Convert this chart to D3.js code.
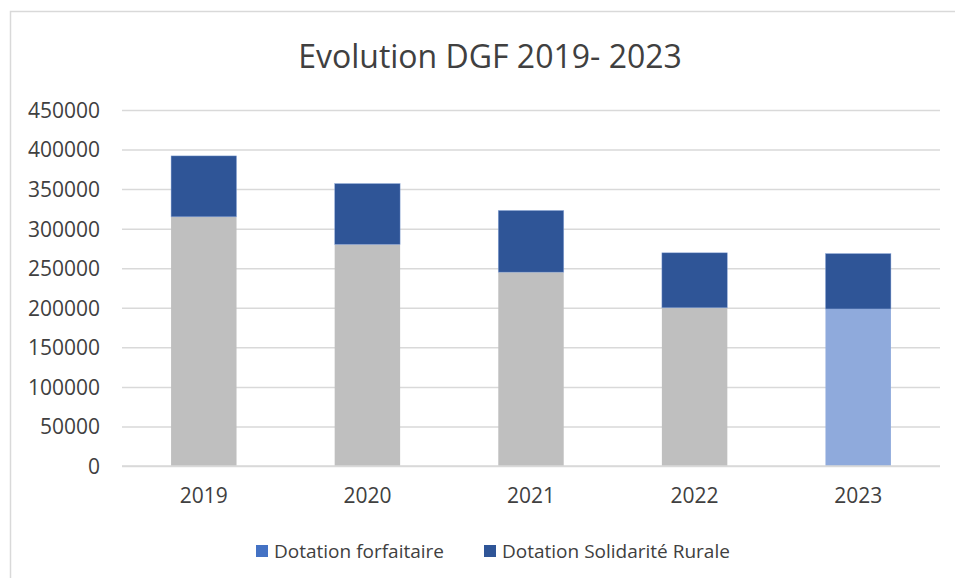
<!DOCTYPE html>
<html>
<head>
<meta charset="utf-8">
<script src="https://cdn.jsdelivr.net/npm/d3@7"></script>
<style>
  body { margin: 0; background: #fff; }
  svg { display: block; font-family: "Open Sans", sans-serif; }
</style>
</head>
<body>
<div id="chart"></div>
<script>
// data
var years = ["2019", "2020", "2021", "2022", "2023"];
var forfaitaire = [315000, 280000, 245000, 200000, 198500];
var solidarite = [77000, 77000, 78000, 69500, 70000];
var yTicks = [0, 50000, 100000, 150000, 200000, 250000, 300000, 350000, 400000, 450000];
var seriesNames = ["Dotation forfaitaire", "Dotation Solidarité Rurale"];

var svgwidth = 955, svgheight = 578;
var svg = d3.select("#chart").append("svg").attr("width", svgwidth).attr("height", svgheight);

// chart area border
svg.append("rect").attr("x", 10.5).attr("y", 11.5).attr("width", 960).attr("height", 600)
   .attr("fill", "none").attr("stroke", "#d9d9d9").attr("stroke-width", 1.5);

svg.append("text").attr("x", 490).attr("y", 68).attr("text-anchor", "middle")
   .attr("fill", "#404040").style("font-size", "32px")
   .text("Evolution DGF 2019- 2023");

var xScale = d3.scaleBand().domain(years).range([122, 940]).paddingInner(0.6).paddingOuter(0.3);
var yScale = d3.scaleLinear().domain([0, 450000]).range([466, 110]);

// gridlines
var yAxis = d3.axisLeft(yScale).tickValues(yTicks).tickFormat(d3.format("d"))
   .tickSize(-(940 - 122)).tickPadding(22);
var gy = svg.append("g").attr("transform", "translate(122,0)").call(yAxis);
gy.select(".domain").remove();
gy.selectAll("line").attr("stroke", "#d9d9d9").attr("stroke-width", 1.5);
gy.selectAll("text").attr("fill", "#404040").style("font-size", "21px")
   .style("font-family", "'Open Sans', sans-serif").attr("dy", "0.35em");

// stacked bars
var rows = years.map(function(y, i) { return { year: y, forf: forfaitaire[i], sol: solidarite[i] }; });

svg.selectAll(".forf").data(rows).enter().append("rect").attr("class", "forf")
   .attr("x", d => xScale(d.year)).attr("width", xScale.bandwidth())
   .attr("y", d => yScale(d.forf)).attr("height", d => yScale(0) - yScale(d.forf))
   .attr("fill", (d, i) => i == 4 ? "#8faadc" : "#bfbfbf");

svg.selectAll(".sol").data(rows).enter().append("rect").attr("class", "sol")
   .attr("x", d => xScale(d.year)).attr("width", xScale.bandwidth())
   .attr("y", d => yScale(d.forf + d.sol)).attr("height", d => yScale(d.forf) - yScale(d.forf + d.sol))
   .attr("fill", "#2f5597").attr("stroke", "#8faadc").attr("stroke-width", 0.6).attr("stroke-opacity", 0.7);

// baseline
svg.append("line").attr("x1", 122).attr("x2", 940).attr("y1", yScale(0)).attr("y2", yScale(0))
   .attr("stroke", "#d9d9d9").attr("stroke-width", 1.5);

// x labels
var xAxis = d3.axisBottom(xScale).tickSize(0).tickPadding(22);
var gx = svg.append("g").attr("transform", "translate(0," + yScale(0) + ")").call(xAxis);
gx.select(".domain").remove();
gx.selectAll("text").attr("fill", "#404040").style("font-size", "21px")
   .style("font-family", "'Open Sans', sans-serif");

// legend
var legendColors = ["#4472c4", "#2f5597"];
var legendX = [256, 484];
var lg = svg.selectAll(".lg").data(seriesNames).enter().append("g").attr("class", "lg")
   .attr("transform", (d, i) => "translate(" + legendX[i] + ",545)");
lg.append("rect").attr("width", 12).attr("height", 12).attr("fill", (d, i) => legendColors[i]);
lg.append("text").attr("x", 18).attr("y", 6).attr("dy", "0.35em").attr("fill", "#404040")
   .style("font-size", "19px").text(d => d);
</script>
</body>
</html>
